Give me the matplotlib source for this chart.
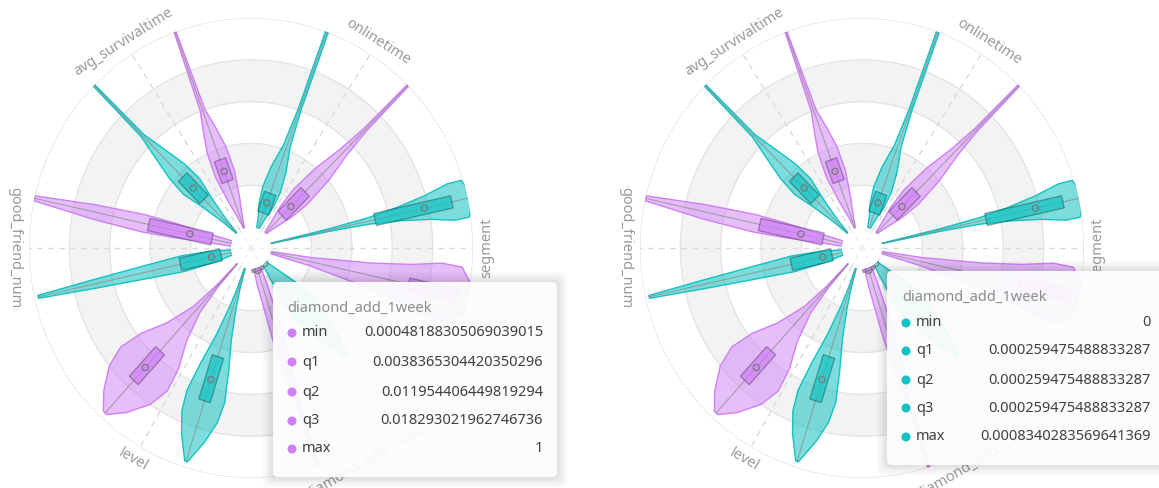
import numpy as np
import matplotlib.pyplot as plt
from matplotlib.colors import to_rgba
from matplotlib.patches import FancyBboxPatch, Circle

plt.rcParams['font.family'] = ['Noto Sans', 'DejaVu Sans']

# 类别（按逆时针，从右侧开始）
categories = ["segment", "onlinetime", "avg_survivaltime",
              "good_friend_num", "level", "diamond_add_1week"]

purple = "#CF7FF7"
teal = "#13C2C2"

# 箱线统计值（顺序同 categories）
purple_min = [0.0, 0.0, 0.0, 0.0, 0.0, 0.00048]
purple_q1 = [0.70, 0.12, 0.24, 0.10, 0.567, 0.0038]
purple_med = [0.84, 0.18, 0.29, 0.21, 0.675, 0.012]
purple_q3 = [0.95, 0.28, 0.35, 0.42, 0.76, 0.018]
purple_max = [1.0, 1.0, 1.0, 1.0, 0.97, 1.0]

teal_min = [0.0, 0.0, 0.0, 0.0, 0.0, 0.0]
teal_q1 = [0.53, 0.08, 0.23, 0.055, 0.445, 0.00026]
teal_med = [0.78, 0.13, 0.305, 0.10, 0.56, 0.00026]
teal_q3 = [0.92, 0.18, 0.38, 0.26, 0.667, 0.00026]
teal_max = [1.0, 1.0, 1.0, 0.98, 0.97, 0.00083]

# 小提琴轮廓：取值点与相对密度宽度
purple_v = [
    [0.0, 0.2, 0.5, 0.7, 0.85, 0.95, 1.0],
    [0.0, 0.05, 0.15, 0.25, 0.4, 0.55, 0.7, 1.0],
    [0.0, 0.05, 0.15, 0.28, 0.4, 0.5, 0.6, 1.0],
    [0.0, 0.1, 0.3, 0.45, 0.7, 1.0],
    [0.0, 0.15, 0.3, 0.45, 0.58, 0.7, 0.8, 0.9, 0.97],
    [0.0, 0.08, 0.2, 0.35, 0.5, 0.7, 1.0],
]
purple_w = [
    [0.25, 0.3, 0.45, 0.55, 0.65, 0.6, 0.3],
    [0.2, 0.45, 0.7, 0.65, 0.4, 0.15, 0.05, 0.02],
    [0.1, 0.3, 0.55, 0.6, 0.45, 0.25, 0.08, 0.02],
    [0.6, 0.45, 0.4, 0.35, 0.2, 0.05],
    [0.05, 0.1, 0.25, 0.55, 0.85, 0.9, 0.7, 0.35, 0.05],
    [0.8, 0.6, 0.4, 0.3, 0.15, 0.05, 0.02],
]
teal_v = [
    [0.0, 0.3, 0.5, 0.65, 0.8, 0.92, 0.99, 1.02],
    [0.0, 0.05, 0.12, 0.2, 0.3, 0.42, 0.6, 1.0],
    [0.0, 0.08, 0.2, 0.32, 0.42, 0.55, 0.66, 1.0],
    [0.0, 0.1, 0.25, 0.4, 0.7, 0.98],
    [0.0, 0.1, 0.2, 0.35, 0.5, 0.65, 0.75, 0.85, 0.97],
    [0.0, 0.1, 0.2, 0.3, 0.45, 0.6],
]
teal_w = [
    [0.05, 0.07, 0.12, 0.2, 0.3, 0.4, 0.38, 0.1],
    [0.3, 0.5, 0.75, 0.7, 0.45, 0.15, 0.05, 0.03],
    [0.1, 0.25, 0.45, 0.6, 0.45, 0.2, 0.05, 0.02],
    [0.6, 0.65, 0.5, 0.3, 0.12, 0.03],
    [0.1, 0.15, 0.25, 0.4, 0.55, 0.6, 0.5, 0.3, 0.03],
    [0.5, 0.8, 0.9, 0.8, 0.4, 0.05],
]

ring_ticks = [0.2, 0.4, 0.6, 0.8, 1.0]

tip_title = "diamond_add_1week"
tip_keys = ["min", "q1", "q2", "q3", "max"]
tip_left_values = ["0.00048188305069039015", "0.0038365304420350296",
                   "0.011954406449819294", "0.018293021962746736", "1"]
tip_right_values = ["0", "0.000259475488833287", "0.000259475488833287",
                    "0.000259475488833287", "0.0008340283569641369"]

W, H = 1159, 488
R_PX = 222          # 外圈半径（像素）
HALF = np.radians(12.5)  # 每个小提琴相对类别中心的偏移/半宽
CAT_ANGLES = [0, 57.5, 122.5, 180, 240, 300]  # 类别所在角度（度）


def box_half(v):
    """箱体半宽：按像素固定宽度换算成角度"""
    return 6.0 / (R_PX * (0.0909 + 0.909 * v))


def draw_violin(ax, tc, vals, widths, color, fa, q1, med, q3, vmin, vmax):
    vals = np.asarray(vals)
    widths = np.asarray(widths)
    th = np.concatenate([tc - widths * HALF, (tc + widths * HALF)[::-1]])
    rr = np.concatenate([vals, vals[::-1]])
    ax.fill(th, rr, facecolor=to_rgba(color, fa), edgecolor=color, lw=1, zorder=3)
    ax.plot([tc, tc], [vmin, vmax], color="#8c8c8c", lw=0.8, alpha=0.7, zorder=4)
    bt = [tc - box_half(q1), tc - box_half(q3), tc + box_half(q3), tc + box_half(q1)]
    ax.fill(bt, [q1, q3, q3, q1], facecolor=to_rgba(color, 0.7),
            edgecolor=(0, 0, 0, 0.28), lw=1, zorder=5)
    ax.scatter([tc], [med], s=20, facecolor="none", edgecolor="#7a7a7a", lw=0.9, zorder=6)


def draw_chart(ax):
    ax.set_aspect("auto")
    ax.set_theta_zero_location("E")
    ax.set_ylim(0, 1)
    ax.set_rorigin(-0.1)
    ax.grid(False)
    ax.set_xticks([])
    ax.set_yticks([])
    # 极坐标在绘制时会重新打开 inner 边框，这里直接把线宽设为 0
    for sp in ax.spines.values():
        sp.set_linewidth(0)
        sp.set_edgecolor("none")

    th = np.linspace(0, 2 * np.pi, 400)
    # 交替灰色环带
    ax.fill_between(th, 0.2, 0.4, color="#f3f3f3", lw=0, zorder=0.5)
    ax.fill_between(th, 0.6, 0.8, color="#f3f3f3", lw=0, zorder=0.5)
    for v in ring_ticks:
        ax.plot(th, np.full_like(th, v), color="#e4e4e4", lw=1, zorder=1)

    for i, name in enumerate(categories):
        deg = CAT_ANGLES[i]
        t = np.radians(deg)
        ax.plot([t, t], [0.0, 1.0], color="#dadada", lw=1, ls=(0, (4, 4)), zorder=1.5)
        ax.plot([t, t], [-0.1, 0.0], color="#ececec", lw=1, ls=(0, (3, 3)),
                clip_on=False, zorder=1.5)
        if 0 < deg < 180:
            rot = deg - 90
        else:
            rot = (deg + 90) % 360
            if rot > 180:
                rot -= 360
        ax.text(t, 1.07, name, rotation=rot, rotation_mode="anchor",
                ha="center", va="center", color="#9a9a9a", fontsize=10.5)

        draw_violin(ax, t - HALF, purple_v[i], purple_w[i], purple, 0.5,
                    purple_q1[i], purple_med[i], purple_q3[i], purple_min[i], purple_max[i])
        draw_violin(ax, t + HALF, teal_v[i], teal_w[i], teal, 0.55,
                    teal_q1[i], teal_med[i], teal_q3[i], teal_min[i], teal_max[i])


def draw_tooltip(fig, box, title_xy, dot_x, key_x, val_x, row_y, values, color):
    """box/坐标均为像素（左上角为原点）"""
    tr = fig.dpi_scale_trans
    x0, y0, x1, y1 = box
    for k, a in enumerate([0.025, 0.025, 0.03, 0.035]):
        pad = (4 - k) * 2.5
        fig.add_artist(FancyBboxPatch(
            ((x0 - pad) / 100, (H - y1 - pad) / 100), (x1 - x0 + 2 * pad) / 100,
            (y1 - y0 + 2 * pad) / 100, boxstyle="round,pad=0,rounding_size=0.06",
            transform=tr, facecolor=(0, 0, 0, a), edgecolor="none", zorder=10))
    fig.add_artist(FancyBboxPatch(
        (x0 / 100, (H - y1) / 100), (x1 - x0) / 100, (y1 - y0) / 100,
        boxstyle="round,pad=0,rounding_size=0.05", transform=tr,
        facecolor=(1, 1, 1, 0.93), edgecolor="none", zorder=11))
    fig.text(title_xy[0] / 100, (H - title_xy[1]) / 100, tip_title, transform=tr,
             color="#8c8c8c", fontsize=10.5, va="center", ha="left", zorder=12)
    for key, val, y in zip(tip_keys, values, row_y):
        fig.add_artist(Circle((dot_x / 100, (H - y) / 100), 0.045, transform=tr,
                              facecolor=color, edgecolor="none", zorder=12))
        fig.text(key_x / 100, (H - y) / 100, key, transform=tr, color="#404040",
                 fontsize=10.5, va="center", ha="left", zorder=12)
        fig.text(val_x / 100, (H - y) / 100, val, transform=tr, color="#404040",
                 fontsize=10.5, va="center", ha="right", zorder=12)


fig = plt.figure(figsize=(W / 100, H / 100), dpi=100)
cy, rv = 248, 230
for cx in [251, 862]:
    ax = fig.add_axes([(cx - R_PX) / W, (H - cy - rv) / H, 2 * R_PX / W, 2 * rv / H],
                      projection="polar")
    draw_chart(ax)

draw_tooltip(fig, (273, 282, 557, 477), (287, 308), 292, 302, 543,
             [333, 362, 392, 421, 449], tip_left_values, purple)
draw_tooltip(fig, (887, 271, 1170, 465), (902, 297), 906, 916, 1151,
             [323, 351, 380, 408, 437], tip_right_values, teal)

fig.savefig("out.png", dpi=100)
